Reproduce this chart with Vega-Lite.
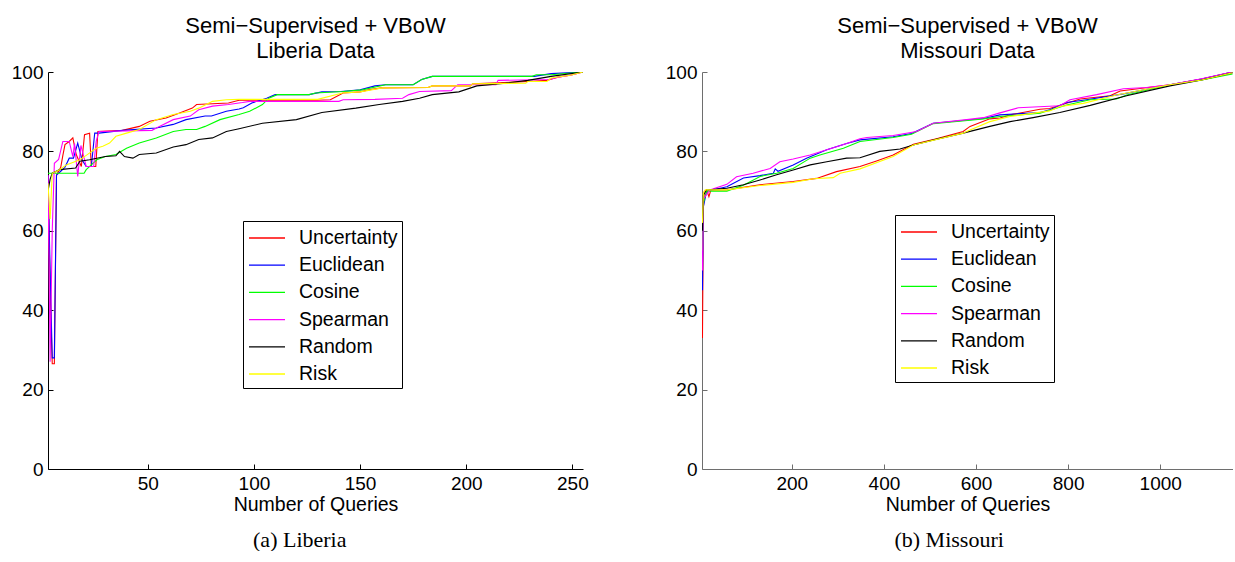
{
  "$schema": "https://vega.github.io/schema/vega-lite/v6.json",
  "padding": {"left": 11, "top": 15, "right": 0, "bottom": 0},
  "background": "white",
  "spacing": 76,
  "config": {
    "view": {"stroke": null},
    "font": "Liberation Sans",
    "axis": {"grid": false, "labelFont": "Liberation Sans", "labelFontSize": 19, "labelColor": "black", "titleFont": "Liberation Sans", "titleFontSize": 19.5, "titleFontWeight": "normal", "titleColor": "black", "tickSize": -5, "labelPadding": 10, "domainWidth": 1, "tickWidth": 1},
    "title": {"font": "Liberation Sans", "fontSize": 22, "fontWeight": "normal", "color": "black", "subtitleFont": "Liberation Sans", "subtitleFontSize": 22, "subtitleColor": "black", "subtitlePadding": 0},
    "legend": {"orient": "none", "strokeColor": "black", "fillColor": "white", "padding": 4, "symbolType": "M-1.5,0H1.5", "symbolSize": 576, "symbolStrokeWidth": 1.3, "symbolOffset": 7, "labelFont": "Liberation Sans", "labelColor": "black", "labelFontSize": 19.5, "rowPadding": 4.2, "labelOffset": 19, "title": null}
  },
  "datasets": {
    "liberia": [
      {"method":"Uncertainty","q":3,"acc":74},{"method":"Uncertainty","q":4,"acc":45},{"method":"Uncertainty","q":5,"acc":26.5},{"method":"Uncertainty","q":6,"acc":26.5},{"method":"Uncertainty","q":7,"acc":74},{"method":"Uncertainty","q":8,"acc":75},{"method":"Uncertainty","q":9,"acc":76},{"method":"Uncertainty","q":10,"acc":79},{"method":"Uncertainty","q":11,"acc":81.7},{"method":"Uncertainty","q":13,"acc":82.5},{"method":"Uncertainty","q":14.7,"acc":83.4},{"method":"Uncertainty","q":16.3,"acc":79.2},{"method":"Uncertainty","q":18.7,"acc":76.2},{"method":"Uncertainty","q":20.2,"acc":84.2},{"method":"Uncertainty","q":22.6,"acc":84.6},{"method":"Uncertainty","q":23.4,"acc":76.2},{"method":"Uncertainty","q":25.5,"acc":76.2},{"method":"Uncertainty","q":26.5,"acc":85},{"method":"Uncertainty","q":38,"acc":85.3},{"method":"Uncertainty","q":46,"acc":86.3},{"method":"Uncertainty","q":51,"acc":87.6},{"method":"Uncertainty","q":58.6,"acc":88.4},{"method":"Uncertainty","q":65,"acc":89.7},{"method":"Uncertainty","q":71,"acc":90.9},{"method":"Uncertainty","q":73,"acc":91.8},{"method":"Uncertainty","q":88,"acc":92.2},{"method":"Uncertainty","q":93,"acc":92.9},{"method":"Uncertainty","q":130,"acc":92.9},{"method":"Uncertainty","q":136,"acc":93},{"method":"Uncertainty","q":142,"acc":94.7},{"method":"Uncertainty","q":150,"acc":95},{"method":"Uncertainty","q":154,"acc":95.5},{"method":"Uncertainty","q":160,"acc":96},{"method":"Uncertainty","q":182,"acc":96.1},{"method":"Uncertainty","q":184,"acc":96.5},{"method":"Uncertainty","q":202,"acc":96.5},{"method":"Uncertainty","q":203,"acc":97},{"method":"Uncertainty","q":229,"acc":97.6},{"method":"Uncertainty","q":238,"acc":97.9},{"method":"Uncertainty","q":243,"acc":98.7},{"method":"Uncertainty","q":249,"acc":99.2},{"method":"Uncertainty","q":255,"acc":100},
      {"method":"Euclidean","q":3,"acc":74},{"method":"Euclidean","q":4,"acc":50},{"method":"Euclidean","q":5,"acc":28},{"method":"Euclidean","q":6,"acc":28},{"method":"Euclidean","q":7,"acc":74},{"method":"Euclidean","q":9,"acc":75},{"method":"Euclidean","q":11,"acc":76},{"method":"Euclidean","q":13,"acc":78.3},{"method":"Euclidean","q":15,"acc":78.3},{"method":"Euclidean","q":17,"acc":82.1},{"method":"Euclidean","q":19,"acc":77.9},{"method":"Euclidean","q":21,"acc":76.2},{"method":"Euclidean","q":23.4,"acc":76.2},{"method":"Euclidean","q":25,"acc":84.6},{"method":"Euclidean","q":27,"acc":84.6},{"method":"Euclidean","q":38,"acc":85.3},{"method":"Euclidean","q":54,"acc":85.9},{"method":"Euclidean","q":62,"acc":86.8},{"method":"Euclidean","q":68,"acc":88},{"method":"Euclidean","q":77,"acc":88.9},{"method":"Euclidean","q":80,"acc":88.9},{"method":"Euclidean","q":87,"acc":90.1},{"method":"Euclidean","q":93,"acc":90.7},{"method":"Euclidean","q":95,"acc":91},{"method":"Euclidean","q":99,"acc":92.2},{"method":"Euclidean","q":106,"acc":93.4},{"method":"Euclidean","q":110,"acc":94.3},{"method":"Euclidean","q":126,"acc":94.3},{"method":"Euclidean","q":132,"acc":95},{"method":"Euclidean","q":141,"acc":95.1},{"method":"Euclidean","q":150,"acc":95.5},{"method":"Euclidean","q":157,"acc":96.5},{"method":"Euclidean","q":162,"acc":96.8},{"method":"Euclidean","q":175,"acc":96.8},{"method":"Euclidean","q":179,"acc":98.1},{"method":"Euclidean","q":184,"acc":98.9},{"method":"Euclidean","q":232,"acc":98.9},{"method":"Euclidean","q":240,"acc":99.6},{"method":"Euclidean","q":255,"acc":100},
      {"method":"Cosine","q":3,"acc":74.5},{"method":"Cosine","q":20,"acc":74.5},{"method":"Cosine","q":21,"acc":75.4},{"method":"Cosine","q":26,"acc":77.9},{"method":"Cosine","q":30,"acc":78.7},{"method":"Cosine","q":35,"acc":79.2},{"method":"Cosine","q":40,"acc":80.8},{"method":"Cosine","q":46,"acc":82.1},{"method":"Cosine","q":54,"acc":83.4},{"method":"Cosine","q":62,"acc":85},{"method":"Cosine","q":68,"acc":85.5},{"method":"Cosine","q":73,"acc":85.5},{"method":"Cosine","q":77,"acc":86.3},{"method":"Cosine","q":84,"acc":88},{"method":"Cosine","q":93,"acc":89.3},{"method":"Cosine","q":98,"acc":90.1},{"method":"Cosine","q":104,"acc":91.8},{"method":"Cosine","q":107,"acc":93.4},{"method":"Cosine","q":111,"acc":94.3},{"method":"Cosine","q":126,"acc":94.3},{"method":"Cosine","q":129,"acc":94.7},{"method":"Cosine","q":142,"acc":95.1},{"method":"Cosine","q":151,"acc":95.5},{"method":"Cosine","q":162,"acc":96.8},{"method":"Cosine","q":175,"acc":96.8},{"method":"Cosine","q":179,"acc":98.1},{"method":"Cosine","q":184,"acc":98.9},{"method":"Cosine","q":231,"acc":98.9},{"method":"Cosine","q":233,"acc":99.3},{"method":"Cosine","q":240,"acc":99.3},{"method":"Cosine","q":255,"acc":100},
      {"method":"Spearman","q":3,"acc":74},{"method":"Spearman","q":4,"acc":27},{"method":"Spearman","q":5,"acc":60},{"method":"Spearman","q":6,"acc":77},{"method":"Spearman","q":8,"acc":78},{"method":"Spearman","q":10,"acc":82.5},{"method":"Spearman","q":13,"acc":82.5},{"method":"Spearman","q":14.7,"acc":78.7},{"method":"Spearman","q":15.5,"acc":82},{"method":"Spearman","q":17,"acc":73.7},{"method":"Spearman","q":18.5,"acc":81.5},{"method":"Spearman","q":21,"acc":76.2},{"method":"Spearman","q":24.5,"acc":76.2},{"method":"Spearman","q":25.7,"acc":82.5},{"method":"Spearman","q":27,"acc":85},{"method":"Spearman","q":52,"acc":85.3},{"method":"Spearman","q":55.5,"acc":86.3},{"method":"Spearman","q":62,"acc":88},{"method":"Spearman","q":70,"acc":88.9},{"method":"Spearman","q":74,"acc":90.5},{"method":"Spearman","q":80.5,"acc":91.4},{"method":"Spearman","q":88,"acc":91.8},{"method":"Spearman","q":94.6,"acc":92.3},{"method":"Spearman","q":98,"acc":92.6},{"method":"Spearman","q":140,"acc":92.6},{"method":"Spearman","q":142,"acc":93},{"method":"Spearman","q":157,"acc":93.1},{"method":"Spearman","q":170,"acc":93.4},{"method":"Spearman","q":173,"acc":94.3},{"method":"Spearman","q":178,"acc":95.1},{"method":"Spearman","q":193,"acc":95.3},{"method":"Spearman","q":196,"acc":96.8},{"method":"Spearman","q":214,"acc":96.8},{"method":"Spearman","q":215,"acc":97.9},{"method":"Spearman","q":239,"acc":98.1},{"method":"Spearman","q":243.5,"acc":98.7},{"method":"Spearman","q":250,"acc":99.3},{"method":"Spearman","q":255,"acc":100},
      {"method":"Random","q":3,"acc":70},{"method":"Random","q":4,"acc":73},{"method":"Random","q":5,"acc":74.5},{"method":"Random","q":8.5,"acc":75.4},{"method":"Random","q":16,"acc":75.8},{"method":"Random","q":18,"acc":77.5},{"method":"Random","q":22.6,"acc":77.9},{"method":"Random","q":30,"acc":78.7},{"method":"Random","q":35,"acc":78.9},{"method":"Random","q":36.7,"acc":80},{"method":"Random","q":39,"acc":78.7},{"method":"Random","q":43,"acc":78.3},{"method":"Random","q":46,"acc":79.2},{"method":"Random","q":54,"acc":79.6},{"method":"Random","q":62,"acc":81.1},{"method":"Random","q":68,"acc":81.7},{"method":"Random","q":74,"acc":83},{"method":"Random","q":80.5,"acc":83.4},{"method":"Random","q":87,"acc":85},{"method":"Random","q":93,"acc":85.7},{"method":"Random","q":104,"acc":87.1},{"method":"Random","q":120,"acc":88},{"method":"Random","q":132,"acc":89.8},{"method":"Random","q":148,"acc":90.9},{"method":"Random","q":159,"acc":91.8},{"method":"Random","q":170,"acc":92.6},{"method":"Random","q":178,"acc":93.4},{"method":"Random","q":184,"acc":94.3},{"method":"Random","q":196.5,"acc":95},{"method":"Random","q":205,"acc":96.5},{"method":"Random","q":218.5,"acc":97.2},{"method":"Random","q":229,"acc":97.9},{"method":"Random","q":240,"acc":98.9},{"method":"Random","q":255,"acc":100},
      {"method":"Risk","q":3,"acc":72},{"method":"Risk","q":4,"acc":63},{"method":"Risk","q":5,"acc":74.5},{"method":"Risk","q":8.5,"acc":75.4},{"method":"Risk","q":11.6,"acc":76.6},{"method":"Risk","q":18,"acc":77.9},{"method":"Risk","q":21,"acc":79},{"method":"Risk","q":25.7,"acc":80.8},{"method":"Risk","q":28.8,"acc":81.3},{"method":"Risk","q":32,"acc":82.1},{"method":"Risk","q":35,"acc":83.8},{"method":"Risk","q":40,"acc":84.6},{"method":"Risk","q":46,"acc":85.5},{"method":"Risk","q":54,"acc":88},{"method":"Risk","q":62,"acc":89.3},{"method":"Risk","q":70,"acc":90.1},{"method":"Risk","q":74,"acc":90.9},{"method":"Risk","q":80.5,"acc":92.6},{"method":"Risk","q":87,"acc":93},{"method":"Risk","q":93,"acc":93.1},{"method":"Risk","q":130,"acc":93.1},{"method":"Risk","q":141.7,"acc":94.7},{"method":"Risk","q":150,"acc":95},{"method":"Risk","q":160.5,"acc":96},{"method":"Risk","q":182,"acc":96.1},{"method":"Risk","q":184,"acc":96.5},{"method":"Risk","q":202,"acc":96.5},{"method":"Risk","q":203,"acc":97},{"method":"Risk","q":228,"acc":97.2},{"method":"Risk","q":229,"acc":97.6},{"method":"Risk","q":238,"acc":97.6},{"method":"Risk","q":240,"acc":98.5},{"method":"Risk","q":249,"acc":99.2},{"method":"Risk","q":255,"acc":100}
    ],
    "missouri": [
      {"method":"Uncertainty","q":6,"acc":33},{"method":"Uncertainty","q":8,"acc":66},{"method":"Uncertainty","q":10,"acc":69.9},{"method":"Uncertainty","q":15,"acc":70.3},{"method":"Uncertainty","q":20,"acc":68.6},{"method":"Uncertainty","q":24,"acc":70.2},{"method":"Uncertainty","q":59,"acc":70.3},{"method":"Uncertainty","q":131,"acc":71.6},{"method":"Uncertainty","q":203,"acc":72.4},{"method":"Uncertainty","q":254,"acc":73.2},{"method":"Uncertainty","q":297,"acc":74.9},{"method":"Uncertainty","q":348,"acc":76.2},{"method":"Uncertainty","q":384,"acc":77.6},{"method":"Uncertainty","q":420,"acc":79.1},{"method":"Uncertainty","q":464,"acc":81.8},{"method":"Uncertainty","q":514,"acc":83.2},{"method":"Uncertainty","q":572,"acc":85},{"method":"Uncertainty","q":587,"acc":86.3},{"method":"Uncertainty","q":630,"acc":88.2},{"method":"Uncertainty","q":652,"acc":88.4},{"method":"Uncertainty","q":674,"acc":89.2},{"method":"Uncertainty","q":739,"acc":90.6},{"method":"Uncertainty","q":760,"acc":90.8},{"method":"Uncertainty","q":826,"acc":93.2},{"method":"Uncertainty","q":891,"acc":94},{"method":"Uncertainty","q":913,"acc":95.2},{"method":"Uncertainty","q":1021,"acc":96.8},{"method":"Uncertainty","q":1090,"acc":98.2},{"method":"Uncertainty","q":1157,"acc":100},
      {"method":"Euclidean","q":6,"acc":45},{"method":"Euclidean","q":8,"acc":66},{"method":"Euclidean","q":15,"acc":70},{"method":"Euclidean","q":59,"acc":71.1},{"method":"Euclidean","q":95,"acc":73.3},{"method":"Euclidean","q":131,"acc":73.9},{"method":"Euclidean","q":160,"acc":74.5},{"method":"Euclidean","q":164,"acc":75.6},{"method":"Euclidean","q":170,"acc":75},{"method":"Euclidean","q":203,"acc":76.6},{"method":"Euclidean","q":232,"acc":78.3},{"method":"Euclidean","q":276,"acc":80.4},{"method":"Euclidean","q":319,"acc":82},{"method":"Euclidean","q":348,"acc":82.9},{"method":"Euclidean","q":420,"acc":83.7},{"method":"Euclidean","q":460,"acc":84.5},{"method":"Euclidean","q":507,"acc":87.1},{"method":"Euclidean","q":616,"acc":88.3},{"method":"Euclidean","q":652,"acc":89.2},{"method":"Euclidean","q":739,"acc":89.8},{"method":"Euclidean","q":760,"acc":90.5},{"method":"Euclidean","q":797,"acc":92.3},{"method":"Euclidean","q":840,"acc":93},{"method":"Euclidean","q":920,"acc":94.5},{"method":"Euclidean","q":1021,"acc":96.8},{"method":"Euclidean","q":1090,"acc":98.2},{"method":"Euclidean","q":1157,"acc":100},
      {"method":"Cosine","q":6,"acc":55},{"method":"Cosine","q":8,"acc":67},{"method":"Cosine","q":15,"acc":70},{"method":"Cosine","q":59,"acc":70},{"method":"Cosine","q":95,"acc":71.5},{"method":"Cosine","q":131,"acc":73.7},{"method":"Cosine","q":167,"acc":74.5},{"method":"Cosine","q":203,"acc":75.7},{"method":"Cosine","q":240,"acc":78.3},{"method":"Cosine","q":261,"acc":79.1},{"method":"Cosine","q":312,"acc":80.8},{"method":"Cosine","q":348,"acc":82.5},{"method":"Cosine","q":420,"acc":83.5},{"method":"Cosine","q":460,"acc":84.3},{"method":"Cosine","q":507,"acc":87},{"method":"Cosine","q":616,"acc":88.2},{"method":"Cosine","q":652,"acc":88.8},{"method":"Cosine","q":739,"acc":89.6},{"method":"Cosine","q":797,"acc":91.7},{"method":"Cosine","q":848,"acc":93},{"method":"Cosine","q":905,"acc":93.2},{"method":"Cosine","q":927,"acc":94.2},{"method":"Cosine","q":1021,"acc":96.8},{"method":"Cosine","q":1090,"acc":98},{"method":"Cosine","q":1157,"acc":99.5},
      {"method":"Spearman","q":6,"acc":50},{"method":"Spearman","q":8,"acc":68},{"method":"Spearman","q":22,"acc":70.3},{"method":"Spearman","q":59,"acc":71.7},{"method":"Spearman","q":80,"acc":73.6},{"method":"Spearman","q":116,"acc":74.5},{"method":"Spearman","q":153,"acc":75.7},{"method":"Spearman","q":174,"acc":77.4},{"method":"Spearman","q":203,"acc":78.1},{"method":"Spearman","q":240,"acc":79.1},{"method":"Spearman","q":276,"acc":80.4},{"method":"Spearman","q":319,"acc":82},{"method":"Spearman","q":348,"acc":83.2},{"method":"Spearman","q":363,"acc":83.5},{"method":"Spearman","q":420,"acc":84},{"method":"Spearman","q":471,"acc":85},{"method":"Spearman","q":507,"acc":87.1},{"method":"Spearman","q":580,"acc":88},{"method":"Spearman","q":616,"acc":88.5},{"method":"Spearman","q":652,"acc":89.7},{"method":"Spearman","q":692,"acc":91},{"method":"Spearman","q":782,"acc":91.5},{"method":"Spearman","q":804,"acc":93},{"method":"Spearman","q":862,"acc":94.3},{"method":"Spearman","q":920,"acc":95.8},{"method":"Spearman","q":970,"acc":96.1},{"method":"Spearman","q":1021,"acc":96.8},{"method":"Spearman","q":1090,"acc":98.3},{"method":"Spearman","q":1157,"acc":100},
      {"method":"Random","q":6,"acc":60},{"method":"Random","q":8,"acc":69},{"method":"Random","q":15,"acc":70.3},{"method":"Random","q":59,"acc":70.7},{"method":"Random","q":95,"acc":71.6},{"method":"Random","q":131,"acc":72.8},{"method":"Random","q":167,"acc":74.1},{"method":"Random","q":203,"acc":75.3},{"method":"Random","q":240,"acc":76.6},{"method":"Random","q":276,"acc":77.4},{"method":"Random","q":319,"acc":78.3},{"method":"Random","q":348,"acc":78.4},{"method":"Random","q":391,"acc":80},{"method":"Random","q":435,"acc":80.6},{"method":"Random","q":464,"acc":81.6},{"method":"Random","q":515,"acc":83.1},{"method":"Random","q":572,"acc":84.6},{"method":"Random","q":630,"acc":86.3},{"method":"Random","q":674,"acc":87.5},{"method":"Random","q":724,"acc":88.5},{"method":"Random","q":782,"acc":89.8},{"method":"Random","q":848,"acc":91.6},{"method":"Random","q":927,"acc":94},{"method":"Random","q":1021,"acc":96.5},{"method":"Random","q":1090,"acc":98},{"method":"Random","q":1157,"acc":99.8},
      {"method":"Risk","q":6,"acc":62},{"method":"Risk","q":8,"acc":69.5},{"method":"Risk","q":12,"acc":70.3},{"method":"Risk","q":59,"acc":70.3},{"method":"Risk","q":131,"acc":71.4},{"method":"Risk","q":203,"acc":72.2},{"method":"Risk","q":247,"acc":73.1},{"method":"Risk","q":290,"acc":73.4},{"method":"Risk","q":305,"acc":74.5},{"method":"Risk","q":348,"acc":75.6},{"method":"Risk","q":420,"acc":78.7},{"method":"Risk","q":464,"acc":81.6},{"method":"Risk","q":572,"acc":84.6},{"method":"Risk","q":587,"acc":85.4},{"method":"Risk","q":630,"acc":87.5},{"method":"Risk","q":674,"acc":88.8},{"method":"Risk","q":760,"acc":90.2},{"method":"Risk","q":782,"acc":91.3},{"method":"Risk","q":833,"acc":92.1},{"method":"Risk","q":905,"acc":94.2},{"method":"Risk","q":1021,"acc":96.8},{"method":"Risk","q":1090,"acc":98},{"method":"Risk","q":1157,"acc":99.8}
    ]
  },
  "hconcat": [
    {
      "title": {"text": "(a) Liberia", "orient": "bottom", "anchor": "middle", "font": "Liberation Serif", "fontSize": 22, "fontWeight": "normal", "lineHeight": 22, "offset": 16},
      "vconcat": [
        {
          "width": 535, "height": 397,
          "title": {"text": "Semi−Supervised + VBoW", "subtitle": "Liberia Data", "offset": 0},
          "data": {"name": "liberia"},
          "mark": {"type": "line", "strokeWidth": 1.1, "clip": true},
          "encoding": {
            "x": {"field": "q", "type": "quantitative", "scale": {"domain": [3, 255], "nice": false, "zero": false}, "axis": {"values": [50, 100, 150, 200, 250], "format": "d", "title": "Number of Queries", "titlePadding": 2, "domainColor": "black", "tickColor": "black"}},
            "y": {"field": "acc", "type": "quantitative", "scale": {"domain": [0, 100], "nice": false}, "axis": {"values": [0, 20, 40, 60, 80, 100], "title": null, "domainColor": "black", "tickColor": "black"}},
            "color": {"field": "method", "type": "nominal", "scale": {"domain": ["Uncertainty", "Euclidean", "Cosine", "Spearman", "Random", "Risk"], "range": ["#ff0000", "#0000ff", "#00ff00", "#ff00ff", "#000000", "#ffff00"]}, "legend": {"legendX": 195, "legendY": 149}}
          }
        }
      ]
    },
    {
      "title": {"text": "(b) Missouri", "orient": "bottom", "anchor": "middle", "font": "Liberation Serif", "fontSize": 22, "fontWeight": "normal", "lineHeight": 22, "offset": 16},
      "vconcat": [
        {
          "width": 531, "height": 397,
          "title": {"text": "Semi−Supervised + VBoW", "subtitle": "Missouri Data", "offset": 0},
          "data": {"name": "missouri"},
          "mark": {"type": "line", "strokeWidth": 1.1, "clip": true},
          "encoding": {
            "x": {"field": "q", "type": "quantitative", "scale": {"domain": [5, 1158], "nice": false, "zero": false}, "axis": {"values": [200, 400, 600, 800, 1000], "format": "d", "title": "Number of Queries", "titlePadding": 2, "domainColor": "#6e6e6e", "tickColor": "#6e6e6e"}},
            "y": {"field": "acc", "type": "quantitative", "scale": {"domain": [0, 100], "nice": false}, "axis": {"values": [0, 20, 40, 60, 80, 100], "title": null, "domainColor": "#6e6e6e", "tickColor": "#6e6e6e"}},
            "color": {"field": "method", "type": "nominal", "scale": {"domain": ["Uncertainty", "Euclidean", "Cosine", "Spearman", "Random", "Risk"], "range": ["#ff0000", "#0000ff", "#00ff00", "#ff00ff", "#000000", "#ffff00"]}, "legend": {"legendX": 193, "legendY": 143}}
          }
        }
      ]
    }
  ],
  "resolve": {"scale": {"color": "independent"}}
}
